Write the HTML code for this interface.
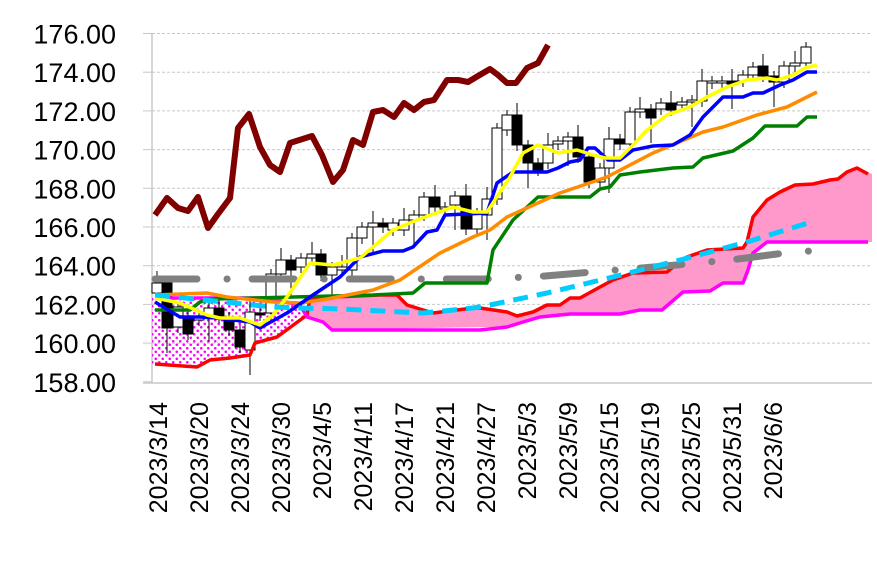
<!DOCTYPE html>
<html><head><meta charset="utf-8"><style>
html,body{margin:0;padding:0;background:#fff;width:877px;height:568px;overflow:hidden}
svg{display:block}
text{font-family:"Liberation Sans",sans-serif;fill:#000}
</style></head><body>
<svg id="s" width="877" height="568" viewBox="0 0 877 568" xmlns="http://www.w3.org/2000/svg">
<defs>
<pattern id="dots" width="7" height="7" patternUnits="userSpaceOnUse">
<circle cx="1.75" cy="1.75" r="1.3" fill="#ff00ff"/>
<circle cx="5.25" cy="5.25" r="1.3" fill="#ff00ff"/>
</pattern>
</defs>
<g id="grid"></g>
<g id="ylab" font-size="27" text-anchor="end"></g>
<g id="xlab" font-size="25" text-anchor="end"></g>
<!-- cloud -->
<polygon fill="url(#dots)" points="152,298 267,298 300,305 307,311 307,315 277,337 255,343 250,355 230,358 210,360 197,367 155,364 152,364"/>
<polygon fill="#ff99cc" points="307,315 310,298 380,295 397,295 407,305 433,313 473,308 480,308 507,312 517,316 533,312 547,305 560,305 570,298 580,298 600,287 613,280 633,273 667,272 673,267 687,257 707,250 743,248 747,242 753,217 767,200 780,192 795,185 813,184 830,180 838,179 847,172 857,168 872,174 872,242 767,242 753,253 748,270 743,283 723,283 710,291 683,292 662,310 640,310 620,314 570,314 540,317 523,322 507,327 480,327 332,330 323,322 307,317"/>
<g id="candles"></g>
<g fill="none" stroke-linejoin="round">
<polyline stroke="#ff0000" stroke-width="3.5" points="155,364 197,367 210,360 230,358 250,355 255,343 277,337 307,315 310,298 380,295 397,295 407,305 433,313 473,308 480,308 507,312 517,316 533,312 547,305 560,305 570,298 580,298 600,287 613,280 633,273 667,272 673,267 687,257 707,250 743,248 747,242 753,217 767,200 780,192 795,185 813,184 830,180 838,179 847,172 857,168 868,174"/>
<polyline stroke="#ff00ff" stroke-width="3.5" points="155,298 267,298 300,305 307,317 323,322 332,330 480,330 507,327 523,322 540,317 570,314 620,314 640,310 662,310 683,292 710,291 723,283 743,283 748,270 753,253 767,242 868,242"/>
<polyline stroke="#808080" stroke-width="7" stroke-linecap="round" stroke-dasharray="42 30 0.1 25" points="155,279 487,279 545,276 592,272 642,268 688,264 738,259 785,253 810,251"/>
<polyline stroke="#008000" stroke-width="3.5" points="155,310 190,310 200,302 213,299 373,295 413,293 425,283 487,283 493,250 513,220 538,197 590,197 600,189 610,187 620,175 640,172 673,168 693,167 703,158 733,151 753,138 765,126 797,126 807,117 817,117"/>
<polyline stroke="#ff8c00" stroke-width="3.5" points="155,295 207,293 227,297 273,302 300,303 327,299 373,290 400,280 440,253 473,237 490,230 507,217 560,193 607,177 653,153 703,132 723,127 757,115 787,107 817,92"/>
<polyline stroke="#0000ff" stroke-width="3.5" points="155,302 180,317 200,317 217,318 233,320 250,322 260,328 287,313 313,295 340,277 360,257 383,251 403,251 413,247 427,232 437,230 445,215 487,213 497,183 513,172 547,172 558,168 570,162 580,160 588,148 595,148 608,160 620,160 633,150 653,146 673,145 690,135 703,117 723,97 743,97 753,93 763,93 780,85 793,80 807,72 817,72"/>
<polyline stroke="#ffff00" stroke-width="3.5" points="155,298 180,303 207,315 220,318 240,318 260,325 273,315 287,297 310,263 333,265 360,258 393,230 417,220 453,207 473,212 487,212 510,177 523,153 538,145 558,153 577,150 593,155 605,158 620,158 633,145 647,130 667,115 690,107 707,97 727,87 747,80 767,78 777,80 793,75 805,68 817,65"/>
<polyline stroke="#00ccff" stroke-width="5" stroke-dasharray="15 9" points="155,295 273,307 300,308 340,309 423,313 473,308 490,305 547,293 613,277 680,260 747,242 808,223"/>
<polyline stroke="#800000" stroke-width="6" points="155,215 167,198 178,208 188,211 198,197 208,228 218,214 230,198 238,128 249,114 260,147 270,165 280,172 290,143 312,136 322,155 333,182 343,170 353,140 363,145 373,112 383,110 394,117 404,103 414,110 424,102 434,100 447,80 458,80 468,82 478,76 490,69 498,75 507,83 516,83 527,68 538,63 548,45"/>
</g>
</svg>
<script>
var NS="http://www.w3.org/2000/svg",s=document.getElementById('s');
function el(p,t,a,txt){var e=document.createElementNS(NS,t);for(var k in a)e.setAttribute(k,a[k]);if(txt)e.textContent=txt;p.appendChild(e);return e;}
var g=document.getElementById('grid'),yl=document.getElementById('ylab'),xl=document.getElementById('xlab');
for(var i=0;i<=9;i++){var y=33.5+i*38.7;
 if(i<9)el(g,'line',{x1:152,x2:872,y1:y,y2:y,stroke:'#c8c8c8','stroke-width':1,'stroke-dasharray':'3 2'});
 el(g,'line',{x1:143,x2:152,y1:y,y2:y,stroke:'#c8c8c8','stroke-width':1});
 el(yl,'text',{x:116,y:y+10},(176-2*i).toFixed(2));}
el(g,'line',{x1:152,x2:152,y1:33,y2:383,stroke:'#c8c8c8','stroke-width':1.5});
el(g,'line',{x1:143,x2:872,y1:383,y2:383,stroke:'#c8c8c8','stroke-width':1.5});
var labs=['2023/3/14','2023/3/20','2023/3/24','2023/3/30','2023/4/5','2023/4/11','2023/4/17','2023/4/21','2023/4/27','2023/5/3','2023/5/9','2023/5/15','2023/5/19','2023/5/25','2023/5/31','2023/6/6'];
labs.forEach(function(l,i){var x=167+41*i;el(xl,'text',{transform:'translate('+x+',402) rotate(-90)'},l);});
// candles: x,top,bottom,black
var C=[[152,283,293,0],[162,283,328,1],[173,307,327,0],[183,318,334,1],[194,318,320,0],[204,308,317,0],[214,308,317,1],[224,317,330,1],[235,330,347,1],[245,312,350,0],[255,313,315,1],[266,274,313,0],[276,260,274,0],[286,260,270,1],[296,258,267,0],[307,254,258,0],[316,254,275,1],[327,267,275,0],[337,267,270,0],[347,238,270,0],[357,227,238,0],[368,223,227,0],[378,223,227,1],[388,223,230,0],[399,220,230,0],[409,215,220,0],[419,197,215,0],[430,197,207,1],[440,207,209,0],[450,196,205,0],[461,196,229,1],[472,213,229,0],[482,199,213,0],[482,199,215,0],[492,128,199,0],[502,115,130,0],[512,115,145,1],[523,145,163,1],[533,163,170,1],[543,145,163,0],[553,141,144,0],[563,137,141,0],[573,137,157,1],[584,157,182,1],[595,168,182,0],[604,139,168,0],[615,139,144,1],[625,112,144,0],[635,109,112,0],[646,109,118,1],[656,103,109,0],[666,103,110,1],[677,102,105,0],[687,100,102,0],[697,81,101,0],[707,81,83,0],[717,81,83,0],[727,81,84,1],[738,75,81,0],[748,67,75,0],[758,66,76,1],[769,76,82,1],[779,66,82,0],[790,63,66,0],[801,47,63,0]];
var cg=document.getElementById('candles');
C.forEach(function(c,i){var cx=c[0]+5;var wt=c[1]-(i%3==0?12:5),wb=c[2]+(i%4==1?25:6);
 el(cg,'line',{x1:cx,x2:cx,y1:wt,y2:wb,stroke:'#000','stroke-width':1});
 el(cg,'rect',{x:c[0],y:c[1],width:10,height:Math.max(1,c[2]-c[1]),fill:c[3]?'#000':'#fff',stroke:'#000','stroke-width':1});});
</script>
</body></html>
